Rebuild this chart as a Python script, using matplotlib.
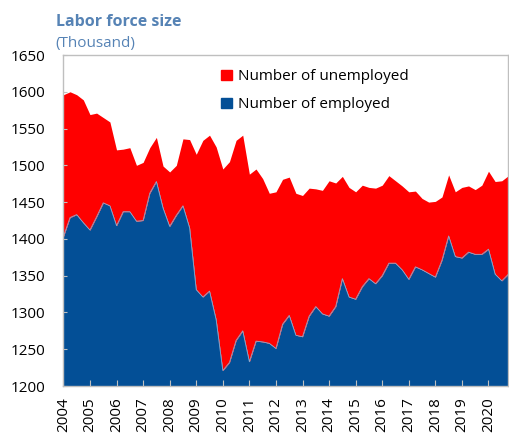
import matplotlib
matplotlib.use("Agg")
import matplotlib.pyplot as plt
import numpy as np
from matplotlib.patches import Patch

plt.rcParams["font.family"] = ["Open Sans", "DejaVu Sans"]

# Quarterly data, 2004Q1 .. 2020Q4 (thousand persons)
years = list(range(2004, 2021))
employed = [
    1403, 1429, 1433, 1422, 1412, 1430, 1449, 1445,
    1418, 1437, 1437, 1424, 1425, 1462, 1478, 1442,
    1417, 1432, 1445, 1415, 1331, 1321, 1329, 1290,
    1221, 1232, 1262, 1275, 1233, 1261, 1260, 1258,
    1251, 1284, 1296, 1269, 1267, 1295, 1308, 1298,
    1295, 1308, 1346, 1321, 1318, 1335, 1346, 1339,
    1350, 1367, 1367, 1358, 1345, 1362, 1358, 1353,
    1348, 1371, 1404, 1376, 1374, 1382, 1379, 1379,
    1386, 1352, 1343, 1352,
]
unemployed = [
    193, 171, 163, 167, 157, 141, 116, 114,
    103, 85, 87, 76, 79, 62, 60, 57,
    74, 68, 91, 120, 184, 213, 212, 235,
    274, 273, 272, 266, 255, 234, 222, 204,
    213, 197, 188, 193, 192, 174, 160, 168,
    184, 168, 139, 149, 146, 138, 124, 130,
    123, 119, 112, 114, 119, 103, 97, 97,
    103, 86, 83, 88, 96, 90, 88, 94,
    106, 126, 136, 134,
]

BLUE = "#034f96"
RED = "#ff0000"
GRID = "#bfbfbf"
TITLE = "#5683b5"

emp = np.array(employed)
total = emp + np.array(unemployed)
x = np.arange(len(employed))

fig = plt.figure(figsize=(5.09, 4.34), dpi=100)
ax = fig.add_axes([63.4 / 509, 1 - 386 / 434, 445 / 509, 331 / 434])

base = 1200
ax.fill_between(x, base, emp, color=BLUE, linewidth=0)
ax.fill_between(x, emp, total, color=RED, linewidth=0)
ax.plot(x, emp, color="#8fa9cc", linewidth=0.6)

ax.set_xlim(0, len(employed) - 1)
ax.set_ylim(1200, 1650)
ax.set_yticks(np.arange(1200, 1651, 50))
ax.set_xticks(np.arange(0, len(employed), 4))
ax.set_xticklabels([str(y) for y in years], rotation=90)

for s in ax.spines.values():
    s.set_color(GRID)
    s.set_linewidth(1.0)
ax.tick_params(axis="y", direction="in", length=3, color=GRID, pad=13, labelsize=11)
ax.tick_params(axis="x", direction="in", length=4, color=GRID, pad=8, labelsize=11)

handles = [Patch(color=RED, label="Number of unemployed"),
           Patch(color=BLUE, label="Number of employed")]
ax.legend(handles=handles, loc="upper left", bbox_to_anchor=(0.354, 0.957),
          frameon=False, fontsize=11, handlelength=0.7, handleheight=0.7,
          handletextpad=0.4, labelspacing=0.85, borderpad=0, borderaxespad=0)

fig.text(56 / 509, 1 - 22 / 434, "Labor force size", color=TITLE,
         fontsize=11.5, fontweight="bold", va="center", ha="left")
fig.text(55 / 509, 1 - 44 / 434, "(Thousand)", color=TITLE,
         fontsize=11, va="center", ha="left")

fig.savefig("out.png", dpi=100)
